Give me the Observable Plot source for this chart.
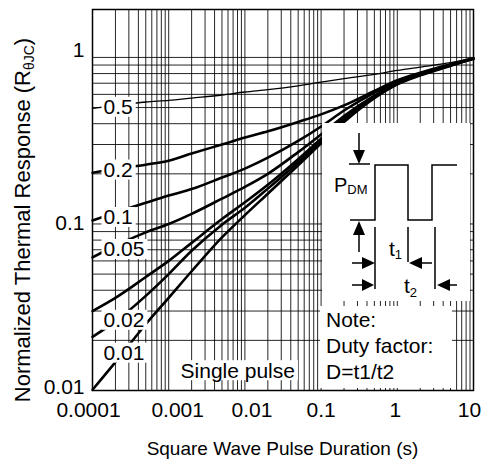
<!DOCTYPE html>
<html><head><meta charset="utf-8">
<script src="https://cdn.jsdelivr.net/npm/d3@7"></script>
<script src="https://cdn.jsdelivr.net/npm/@observablehq/plot@0.6"></script>
<style>body{margin:0;background:#fff} svg{display:block}</style>
</head><body><div id="chart"></div>
<script>
// ---- data ----
const durations = [1e-4, 2e-4, 5e-4, 1e-3, 2e-3, 5e-3, 0.01, 0.02, 0.05, 0.1, 0.2, 0.5, 1, 2, 5, 10];
const duty05  = [0.494, 0.515, 0.54, 0.552, 0.57, 0.595, 0.62, 0.64, 0.675, 0.71, 0.745, 0.79, 0.835, 0.875, 0.93, 0.986];
const duty02  = [0.203, 0.214, 0.227, 0.24, 0.265, 0.30, 0.33, 0.36, 0.41, 0.455, 0.515, 0.63, 0.73, 0.81, 0.91, 0.985];
const duty01  = [0.105, 0.117, 0.134, 0.148, 0.162, 0.19, 0.215, 0.25, 0.315, 0.385, 0.48, 0.615, 0.72, 0.80, 0.905, 0.985];
const duty005 = [0.063, 0.074, 0.089, 0.1, 0.115, 0.142, 0.167, 0.2, 0.27, 0.345, 0.445, 0.59, 0.705, 0.795, 0.9, 0.985];
const duty002 = [0.030, 0.036, 0.048, 0.06, 0.077, 0.107, 0.135, 0.172, 0.245, 0.325, 0.43, 0.58, 0.70, 0.79, 0.9, 0.985];
const duty001 = [0.021, 0.026, 0.037, 0.05, 0.069, 0.099, 0.125, 0.163, 0.235, 0.315, 0.42, 0.575, 0.695, 0.785, 0.895, 0.985];
const singlePulse = [0.0101, 0.0148, 0.025, 0.036, 0.052, 0.083, 0.113, 0.152, 0.225, 0.305, 0.41, 0.57, 0.69, 0.78, 0.89, 0.985];
const seriesNames = ["0.5", "0.2", "0.1", "0.05", "0.02", "0.01", "Single pulse"];
const seriesValues = [duty05, duty02, duty01, duty005, duty002, duty001, singlePulse];
const labelAt = [0.5, 0.21, 0.109, 0.07, 0.0263, 0.0167];
const singleLabelAt = {t: 1.43e-3, v: 0.0131};
const xTicks = [1e-4, 1e-3, 1e-2, 0.1, 1, 10];
const xTickLabels = ["0.0001", "0.001", "0.01", "0.1", "1", "10"];
const yTicks = [0.01, 0.1, 1];
const yTickLabels = ["0.01", "0.1", "1"];
const xTitle = "Square Wave Pulse Duration (s)";
const yTitleParts = ["Normalized Thermal Response (R", "\u03B8JC", ")"];
const noteLines = ["Note:", "Duty factor:", "D=t1/t2"];

// ---- tables ----
const rows = seriesNames.flatMap((name, i) => durations.map((t, j) => ({name, t, v: seriesValues[i][j]})));
const labelRows = labelAt.map((v, i) => ({name: seriesNames[i], v}));
const xGrid = d3.range(-4, 1).flatMap(e => d3.range(1, 10).map(m => m * Math.pow(10, e))).concat([10]);
const yGrid = d3.range(-2, 0).flatMap(e => d3.range(1, 10).map(m => m * Math.pow(10, e))).concat([1]);
const font = "'Liberation Sans', Arial, Helvetica, sans-serif";

const plot = Plot.plot({
  width: 482, height: 466,
  marginLeft: 92, marginRight: 9, marginTop: 9, marginBottom: 76,
  style: {fontFamily: font, fontSize: "21px", background: "#fff", color: "#000"},
  x: {type: "log", domain: [1e-4, 10]},
  y: {type: "log", domain: [0.01, 1.94]},
  marks: [
    Plot.ruleX(xGrid, {stroke: "#000", strokeWidth: 1, strokeOpacity: 0.85}),
    Plot.ruleY(yGrid, {stroke: "#000", strokeWidth: 1, strokeOpacity: 0.85}),
    Plot.line(rows.filter(d => d.name !== "0.5"), {x: "t", y: "v", z: "name", curve: "monotone-x", stroke: "#000", strokeWidth: 2.6}),
    Plot.line(rows.filter(d => d.name === "0.5"), {x: "t", y: "v", z: "name", curve: "monotone-x", stroke: "#000", strokeWidth: 1.3}),
    Plot.text(labelRows, {x: () => durations[0], y: "v", text: "name", textAnchor: "start", dx: 11, fontSize: 21, fill: "#000"}),
    Plot.text([seriesNames[6]], {x: () => singleLabelAt.t, y: () => singleLabelAt.v, text: d => d, textAnchor: "start", fontSize: 21, fill: "#000"}),
    Plot.axisX({ticks: xTicks, tickFormat: d => xTickLabels[xTicks.indexOf(d)], tickSize: 0, tickPadding: 12, label: null, fontSize: 21}),
    Plot.axisY({ticks: yTicks, tickFormat: d => yTickLabels[yTicks.indexOf(d)], tickSize: 0, tickPadding: 8, label: null, fontSize: 21}),
    Plot.frame({stroke: "#000", strokeWidth: 1.5})
  ]
});
document.getElementById("chart").append(plot);

// ---- white label boxes (behind labels, over grid and curves) ----
const NS = "http://www.w3.org/2000/svg";
const svgRect = plot.getBoundingClientRect();
const textGroups = plot.querySelectorAll('g[aria-label="text"]');
const boxes = document.createElementNS(NS, "g");
plot.insertBefore(boxes, textGroups[0]);
const bx = d3.select(boxes).attr("fill", "#fff");
textGroups.forEach(g => g.querySelectorAll("text").forEach(t => {
  const r = t.getBoundingClientRect();
  bx.append("rect")
    .attr("x", r.left - svgRect.left - 2).attr("y", r.top - svgRect.top + 1.5)
    .attr("width", r.width + 5).attr("height", r.height - 3);
}));
// inset & note boxes
bx.append("rect").attr("x", 322).attr("y", 123).attr("width", 148).attr("height", 178);
bx.append("rect").attr("x", 320).attr("y", 306).attr("width", 132).attr("height", 82);

// nudge tick labels to where the reference prints them
function nudge(t, dx, dy) {
  const tr = t.getAttribute("transform");
  if (tr) t.setAttribute("transform", tr + ` translate(${dx},${dy})`);
  else { t.setAttribute("x", (+t.getAttribute("x") || 0) + dx); t.setAttribute("y", (+t.getAttribute("y") || 0) + dy); }
}
const yShift = {"1": -7, "0.1": -1, "0.01": -3};
plot.querySelectorAll('g[aria-label="y-axis tick label"] text').forEach(t => nudge(t, 0, yShift[t.textContent] || 0));
const xShift = {"0.0001": -4, "0.001": 9, "0.01": 7, "0.1": 0, "1": -2, "10": -4};
plot.querySelectorAll('g[aria-label="x-axis tick label"] text').forEach(t => nudge(t, xShift[t.textContent] || 0, 0));

// ---- annotations ----
const svg = d3.select(plot);
const ann = svg.append("g");
const draw = ann.append("g").attr("fill", "none").attr("stroke", "#000").attr("stroke-width", 1.5);
draw.append("path").attr("d", "M350,220H375V165H408V220H432V165H457");
draw.append("path").attr("d", "M349,164H370");
draw.append("path").attr("d", "M359,133V152M359,234V252M352,263H363M422,263H432M352,285H363M449,285H457");
draw.append("path").attr("d", "M375,227V289M408,227V262M435,227V289");
const heads = ann.append("g").attr("fill", "#000");
heads.append("path").attr("d", "M353,150L365,150L359,164Z");
heads.append("path").attr("d", "M353,235L365,235L359,221Z");
heads.append("path").attr("d", "M362,257L362,269L375,263Z");
heads.append("path").attr("d", "M422,257L422,269L409,263Z");
heads.append("path").attr("d", "M362,279L362,291L374,285Z");
heads.append("path").attr("d", "M450,279L450,291L437,285Z");

const txt = ann.append("g").attr("font-family", font).attr("fill", "#000").attr("text-anchor", "start");
const pdm = txt.append("text").attr("x", 334).attr("y", 192).attr("font-size", 20).text("P");
pdm.append("tspan").attr("font-size", 13).attr("dy", 2).text("DM");
const t1 = txt.append("text").attr("x", 389).attr("y", 256).attr("font-size", 21).text("t");
t1.append("tspan").attr("font-size", 13).attr("dy", 3).text("1");
const t2 = txt.append("text").attr("x", 404).attr("y", 293).attr("font-size", 21).text("t");
t2.append("tspan").attr("font-size", 13).attr("dy", 4).text("2");
noteLines.forEach((s, i) => txt.append("text").attr("x", 326).attr("y", 327 + i * 26).attr("font-size", 21).text(s));

// axis titles
txt.append("text").attr("x", 282.5).attr("y", 455).attr("text-anchor", "middle").attr("font-size", 19).text(xTitle);
const yt = txt.append("text").attr("transform", "translate(22,220) rotate(-90)").attr("text-anchor", "middle")
  .attr("dy", "0.35em").attr("font-size", 22).text(yTitleParts[0]);
yt.append("tspan").attr("font-size", 14).attr("dy", 4).text(yTitleParts[1]);
yt.append("tspan").attr("dy", -4).text(yTitleParts[2]);
</script>
</body></html>
